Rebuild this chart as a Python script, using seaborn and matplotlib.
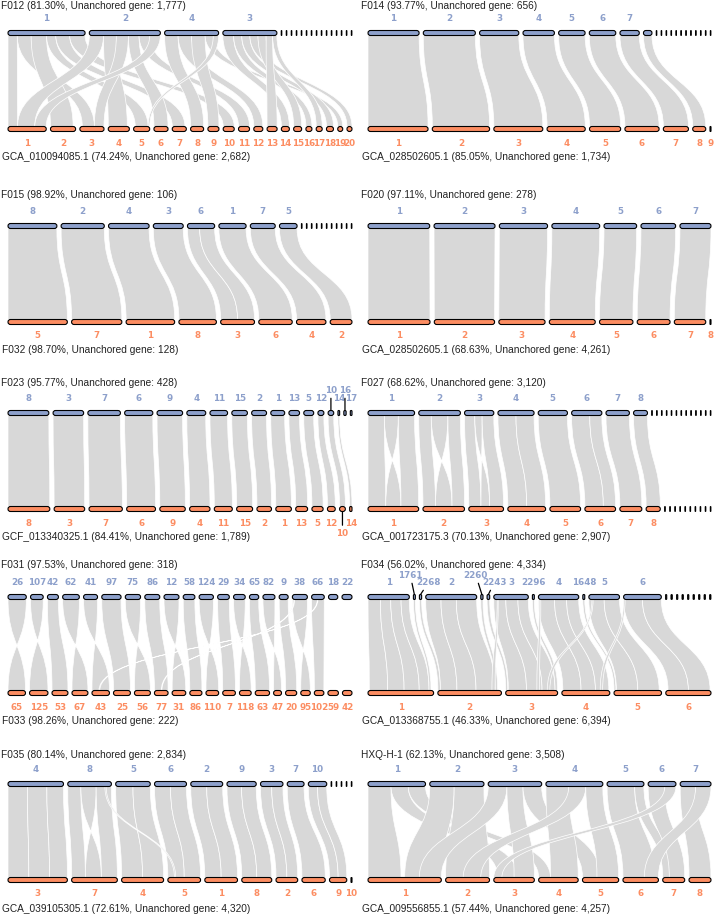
import numpy as np
import matplotlib
matplotlib.use("Agg")
import matplotlib.pyplot as plt
import seaborn as sns
from matplotlib.patches import FancyBboxPatch, PathPatch
from matplotlib.path import Path

sns.set_theme(style="white")
plt.rcParams['font.family'] = ['DejaVu Sans']

pal = sns.color_palette("Set2")
TOP_C, BOT_C = pal[2], pal[1]
LINK_C = '#d8d8d8'

# ---------------- data (chromosome sizes, relative units) ----------------
f012_top_title = "F012 (81.30%, Unanchored gene: 1,777)"
f012_bot_title = "GCA_010094085.1 (74.24%, Unanchored gene: 2,682)"
f012_top_names = ['1', '2', '4', '3']
f012_top_len = [77, 71, 54, 54]
f012_top_tiny = 15
f012_bot_names = ['1', '2', '3', '4', '5', '6', '7', '8', '9', '10',
                  '11', '12', '13', '14', '15', '16', '17', '18', '19', '20']
f012_bot_len = [38, 25, 24, 21, 16, 14, 14, 13, 11, 11, 11, 9, 10, 8, 8, 6, 6, 7, 5, 5]
f012_links = [
    ('1', 0.00, 0.12, '1', 0.00, 0.25), ('1', 0.12, 0.30, '3', 0.10, 0.60),
    ('1', 0.30, 0.50, '2', 0.00, 0.90), ('1', 0.50, 0.62, '5', 0.10, 0.90),
    ('1', 0.62, 0.80, '7', 0.00, 0.90), ('1', 0.80, 1.00, '10', 0.00, 1.00),
    ('2', 0.00, 0.20, '1', 0.25, 0.70), ('2', 0.20, 0.38, '4', 0.00, 0.90),
    ('2', 0.38, 0.55, '3', 0.60, 1.00), ('2', 0.55, 0.70, '6', 0.00, 1.00),
    ('2', 0.70, 0.85, '11', 0.00, 1.00), ('2', 0.85, 1.00, '1', 0.70, 1.00),
    ('4', 0.00, 0.25, '8', 0.00, 1.00), ('4', 0.25, 0.50, '12', 0.00, 1.00),
    ('4', 0.50, 0.75, '9', 0.00, 1.00), ('4', 0.75, 0.90, '19', 0.00, 1.00),
    ('4', 0.90, 1.00, '5', 0.90, 1.00),
    ('3', 0.00, 0.20, '14', 0.00, 1.00), ('3', 0.20, 0.35, '16', 0.00, 1.00),
    ('3', 0.35, 0.50, '18', 0.00, 1.00), ('3', 0.50, 0.65, '20', 0.00, 1.00),
    ('3', 0.65, 0.80, '15', 0.00, 1.00), ('3', 0.80, 0.92, '13', 0.00, 1.00),
    ('3', 0.92, 1.00, '17', 0.00, 1.00),
]

f014_top_title = "F014 (93.77%, Unanchored gene: 656)"
f014_bot_title = "GCA_028502605.1 (85.05%, Unanchored gene: 1,734)"
f014_top_names = ['1', '2', '3', '4', '5', '6', '7', '8']
f014_top_len = [52, 53, 40, 32, 27, 27, 19.7, 8.7]
f014_top_tiny = 12
f014_top_hide = ['8']
f014_bot_names = ['1', '2', '3', '4', '5', '6', '7', '8', '9']
f014_bot_len = [59.7, 57, 48.7, 38, 31, 34, 25, 13, 1]
f014_links = [(c, 0, 1, c, 0, 1) for c in ['1', '2', '3', '4', '5', '6', '7', '8']]

f015_top_title = "F015 (98.92%, Unanchored gene: 106)"
f015_bot_title = "F032 (98.70%, Unanchored gene: 128)"
f015_top_names = ['8', '2', '4', '3', '6', '1', '7', '5']
f015_top_len = [49, 43.3, 40.7, 30, 27.3, 27.3, 25, 17.7]
f015_top_tiny = 11
f015_bot_names = ['5', '7', '1', '8', '3', '6', '4', '2']
f015_bot_len = [59, 50, 48.3, 37.3, 33.7, 33.3, 29.3, 21.7]
f015_links = [('8', 0, 1, '5', 0, 1), ('2', 0, 1, '7', 0, 1), ('4', 0, 1, '1', 0, 1),
              ('3', 0, 1, '8', 0, 1), ('6', 0, 0.45, '3', 0, 0.5), ('6', 0.45, 1, '3', 0.5, 1),
              ('1', 0, 1, '6', 0, 1), ('7', 0, 1, '4', 0, 1), ('5', 0, 1, '2', 0, 1)]

f020_top_title = "F020 (97.11%, Unanchored gene: 278)"
f020_bot_title = "GCA_028502605.1 (68.63%, Unanchored gene: 4,261)"
f020_top_names = ['1', '2', '3', '4', '5', '6', '7']
f020_top_len = [61, 60.3, 47.7, 47.3, 32.3, 34.3, 30.7]
f020_bot_names = ['1', '2', '3', '4', '5', '6', '7', '8']
f020_bot_len = [61.7, 60, 46, 45.7, 33.3, 32.7, 31.3, 1]
f020_links = [(c, 0, 1, c, 0, 1) for c in ['1', '2', '3', '4', '5', '6', '7']]

f023_top_title = "F023 (95.77%, Unanchored gene: 428)"
f023_bot_title = "GCF_013340325.1 (84.41%, Unanchored gene: 1,789)"
f023_top_names = ['8', '3', '7', '6', '9', '4', '11', '15', '2', '1', '13', '5', '12', '10', '14', '16', '17']
f023_top_len = [41, 30.7, 32.7, 28.3, 25.7, 19, 17.7, 15.7, 15, 14, 10.7, 10, 6, 5.7, 1.7, 2.3, 1.7]
f023_bot_names = ['8', '3', '7', '6', '9', '4', '11', '15', '2', '1', '13', '5', '12', '10', '14']
f023_bot_len = [41, 30, 32.7, 28.3, 25, 20, 17.7, 15.7, 14.3, 15.3, 11.7, 11, 7.7, 5.7, 2.3]
f023_links = [(c, 0, 1, c, 0, 1) for c in f023_bot_names]
f023_top_shift = {'10': (0, 8, True), '16': (0, 8, True)}
f023_bot_shift = {'10': (0, 10, True)}

f027_top_title = "F027 (68.62%, Unanchored gene: 3,120)"
f027_bot_title = "GCA_001723175.3 (70.13%, Unanchored gene: 2,907)"
f027_top_names = ['1', '2', '3', '4', '5', '6', '7', '8']
f027_top_len = [47.7, 42.7, 30, 37, 30, 31, 24, 14.3]
f027_top_tiny = 13
f027_bot_names = ['1', '2', '3', '4', '5', '6', '7', '8']
f027_bot_len = [50, 41, 34.3, 37.3, 30.3, 30.3, 21.7, 14]
f027_bot_tiny = 10
f027_links = [
    ('1', 0, 0.35, '1', 0, 0.35), ('1', 0.35, 0.65, '1', 0.65, 0.35), ('1', 0.65, 1, '1', 0.65, 1),
    ('2', 0, 0.3, '2', 0, 0.3), ('2', 0.3, 0.7, '2', 0.7, 0.3), ('2', 0.7, 1, '2', 0.7, 1),
    ('3', 0, 0.35, '3', 0, 0.35), ('3', 0.35, 0.6, '3', 0.6, 0.35), ('3', 0.6, 1, '3', 0.6, 1),
    ('4', 0, 0.5, '4', 0, 0.5), ('4', 0.5, 1, '4', 0.5, 1),
    ('5', 0, 1, '5', 0, 1), ('6', 0, 0.6, '6', 0, 0.6), ('6', 0.6, 1, '6', 0.6, 1),
    ('7', 0, 1, '7', 0, 1), ('8', 0, 1, '8', 0, 1),
]

f031_top_title = "F031 (97.53%, Unanchored gene: 318)"
f031_bot_title = "F033 (98.26%, Unanchored gene: 222)"
f031_top_names = ['26', '107', '42', '62', '41', '97', '75', '86', '12', '58',
                  '124', '29', '34', '65', '82', '9', '38', '66', '18', '22']
f031_top_len = [18.3, 12.7, 11, 16.7, 14, 19.3, 15.3, 15, 15, 11.7,
                14.3, 11.7, 11.7, 9.3, 12, 9, 15, 12.7, 9.3, 10]
f031_bot_names = ['65', '125', '53', '67', '43', '25', '56', '77', '31', '86',
                  '110', '7', '118', '63', '47', '20', '95', '102', '59', '42']
f031_bot_len = [18.3, 19.3, 16.7, 16.7, 18.3, 17.7, 16.7, 14.3, 14.3, 12.7,
                13.3, 13.3, 12.3, 15, 8.3, 11.7, 10, 10, 11, 10]
f031_links = [
    ('26', 0, 1, '65', 1, 0), ('107', 0, 1, '125', 1, 0), ('42', 0, 1, '53', 0, 1),
    ('62', 0, 1, '67', 1, 0), ('41', 0, 1, '43', 1, 0), ('97', 0, 1, '25', 0, 1),
    ('75', 0, 1, '56', 1, 0), ('86', 0, 1, '77', 0, 1), ('12', 0, 1, '31', 1, 0),
    ('58', 0, 1, '86', 0, 1), ('124', 0, 1, '110', 1, 0), ('29', 0, 1, '7', 0, 1),
    ('34', 0, 1, '118', 1, 0), ('65', 0, 1, '63', 0, 1), ('82', 0, 1, '47', 1, 0),
    ('9', 0, 1, '20', 0, 1), ('38', 0, 1, '95', 1, 0), ('66', 0, 1, '102', 0, 1),
    ('66', 0.45, 0.5, '43', 0.4, 0.45), ('38', 0.1, 0.15, '77', 0.5, 0.55),
]

f034_top_title = "F034 (56.02%, Unanchored gene: 4,334)"
f034_bot_title = "GCA_013368755.1 (46.33%, Unanchored gene: 6,394)"
f034_top_names = ['1', '1761', '2268', '2', '2260', '2243', '3', '2296', '4', '1648', '5', '6']
f034_top_len = [42.7, 2, 2.3, 52.7, 2.3, 2.7, 35.7, 2, 41.7, 2, 31.7, 39]
f034_top_tiny = 9
f034_bot_names = ['1', '2', '3', '4', '5', '6']
f034_bot_len = [65.3, 63.3, 51.7, 47.7, 47.3, 45]
f034_links = [
    ('1', 0, 0.3, '1', 0.02, 0.3), ('1', 0.3, 0.55, '1', 0.3, 0.55),
    ('1', 0.55, 0.8, '1', 0.55, 0.78), ('1', 0.8, 1, '1', 0.78, 0.93),
    ('1761', 0, 1, '1', 0.93, 0.96), ('2268', 0, 1, '2', 0.0, 0.04),
    ('2', 0, 0.3, '2', 0.04, 0.3), ('2', 0.3, 0.6, '2', 0.3, 0.6), ('2', 0.6, 1, '2', 0.6, 0.9),
    ('2260', 0, 1, '2', 0.9, 0.94), ('2243', 0, 1, '3', 0.0, 0.04),
    ('3', 0, 0.35, '3', 0.05, 0.4), ('3', 0.35, 0.7, '3', 0.4, 0.7), ('3', 0.7, 1, '3', 0.7, 0.95),
    ('2296', 0, 1, '3', 0.95, 1.0),
    ('4', 0, 0.4, '4', 0.02, 0.4), ('4', 0.4, 0.7, '4', 0.4, 0.7), ('4', 0.7, 1, '4', 0.7, 0.98),
    ('1648', 0, 1, '5', 0.0, 0.04),
    ('5', 0, 0.5, '5', 0.05, 0.5), ('5', 0.5, 1, '5', 0.5, 0.95),
    ('6', 0, 0.5, '6', 0.05, 0.5), ('6', 0.5, 1, '6', 0.5, 0.98),
    ('4', 0.02, 0.06, '3', 0.6, 0.65), ('5', 0.1, 0.14, '3', 0.8, 0.85),
    ('6', 0.0, 0.04, '4', 0.8, 0.85), ('3', 0.1, 0.13, '2', 0.85, 0.9),
]
f034_top_shift = {'1761': (-4, 7, True), '2268': (8, 0, True),
                  '2260': (-6, 7, True), '2243': (6, 0, True)}

f035_top_title = "F035 (80.14%, Unanchored gene: 2,834)"
f035_bot_title = "GCA_039105305.1 (72.61%, Unanchored gene: 4,320)"
f035_top_names = ['4', '8', '5', '6', '2', '9', '3', '7', '10']
f035_top_len = [55, 43.3, 34.3, 31.7, 31.7, 29, 22.3, 16.7, 18.3]
f035_top_tiny = 5
f035_bot_names = ['3', '7', '4', '5', '1', '8', '2', '6', '9', '10']
f035_bot_len = [59.3, 45.7, 42, 32.7, 32.7, 30, 21.7, 23.3, 17.3, 1]
f035_links = [
    ('4', 0, 0.35, '3', 0, 0.35), ('4', 0.35, 0.7, '3', 0.35, 0.7), ('4', 0.7, 1, '3', 0.7, 1),
    ('8', 0, 0.3, '7', 0, 0.3), ('8', 0.3, 0.65, '7', 0.65, 0.3), ('8', 0.65, 1, '7', 0.65, 1),
    ('5', 0, 0.5, '4', 0, 0.5), ('5', 0.5, 1, '4', 0.5, 1),
    ('6', 0, 0.5, '5', 0, 0.5), ('6', 0.5, 1, '5', 0.5, 1),
    ('2', 0, 0.5, '1', 0, 0.5), ('2', 0.5, 1, '1', 0.5, 1),
    ('9', 0, 0.5, '8', 0, 0.5), ('9', 0.5, 1, '8', 0.5, 1),
    ('3', 0, 0.5, '2', 0, 0.5), ('3', 0.5, 1, '2', 0.5, 1),
    ('7', 0, 1, '6', 0, 1), ('10', 0, 0.5, '9', 0, 0.5), ('10', 0.5, 1, '9', 0.5, 1),
    ('8', 0.85, 0.88, '5', 0.2, 0.24),
]

hxq_top_title = "HXQ-H-1 (62.13%, Unanchored gene: 3,508)"
hxq_bot_title = "GCA_009556855.1 (57.44%, Unanchored gene: 4,257)"
hxq_top_names = ['1', '2', '3', '4', '5', '6', '7']
hxq_top_len = [57.3, 54, 53.3, 56.7, 36.7, 27.7, 30.7]
hxq_bot_names = ['1', '2', '3', '4', '5', '6', '7', '8']
hxq_bot_len = [72.3, 43.3, 40, 39, 35.7, 35, 21.7, 21.7]
hxq_links = [
    ('1', 0.0, 0.4, '1', 0.0, 0.45), ('1', 0.4, 0.7, '3', 0.1, 0.6), ('1', 0.7, 1.0, '4', 0.0, 0.3),
    ('2', 0.0, 0.45, '1', 0.5, 1.0), ('2', 0.45, 1.0, '2', 0.0, 1.0),
    ('3', 0.0, 0.35, '1', 0.7, 1.0), ('3', 0.35, 0.65, '3', 0.5, 1.0), ('3', 0.65, 1.0, '5', 0.0, 0.5),
    ('4', 0.0, 0.4, '4', 0.3, 1.0), ('4', 0.4, 0.7, '2', 0.4, 0.8), ('4', 0.7, 1.0, '5', 0.4, 1.0),
    ('5', 0.0, 0.75, '6', 0.0, 0.9), ('5', 0.75, 1.0, '7', 0.0, 0.5),
    ('6', 0.0, 0.6, '7', 0.3, 1.0), ('6', 0.6, 1.0, '3', 0.0, 0.2),
    ('7', 0.0, 0.5, '8', 0.0, 1.0), ('7', 0.5, 1.0, '6', 0.6, 1.0),
]

panels = [
    dict(row=0, col=0, tt=f012_top_title, bt=f012_bot_title, tn=f012_top_names, tl=f012_top_len,
         tk=f012_top_tiny, bn=f012_bot_names, bl=f012_bot_len, links=f012_links),
    dict(row=0, col=1, tt=f014_top_title, bt=f014_bot_title, tn=f014_top_names, tl=f014_top_len,
         tk=f014_top_tiny, bn=f014_bot_names, bl=f014_bot_len, links=f014_links, hide=f014_top_hide),
    dict(row=1, col=0, tt=f015_top_title, bt=f015_bot_title, tn=f015_top_names, tl=f015_top_len,
         tk=f015_top_tiny, bn=f015_bot_names, bl=f015_bot_len, links=f015_links),
    dict(row=1, col=1, tt=f020_top_title, bt=f020_bot_title, tn=f020_top_names, tl=f020_top_len,
         bn=f020_bot_names, bl=f020_bot_len, links=f020_links),
    dict(row=2, col=0, tt=f023_top_title, bt=f023_bot_title, tn=f023_top_names, tl=f023_top_len,
         bn=f023_bot_names, bl=f023_bot_len, links=f023_links, tshift=f023_top_shift, bshift=f023_bot_shift),
    dict(row=2, col=1, tt=f027_top_title, bt=f027_bot_title, tn=f027_top_names, tl=f027_top_len,
         tk=f027_top_tiny, bn=f027_bot_names, bl=f027_bot_len, bk=f027_bot_tiny, links=f027_links),
    dict(row=3, col=0, tt=f031_top_title, bt=f031_bot_title, tn=f031_top_names, tl=f031_top_len,
         bn=f031_bot_names, bl=f031_bot_len, links=f031_links),
    dict(row=3, col=1, tt=f034_top_title, bt=f034_bot_title, tn=f034_top_names, tl=f034_top_len,
         tk=f034_top_tiny, tkl=1.5, bn=f034_bot_names, bl=f034_bot_len, links=f034_links, tshift=f034_top_shift),
    dict(row=4, col=0, tt=f035_top_title, bt=f035_bot_title, tn=f035_top_names, tl=f035_top_len,
         tk=f035_top_tiny, bn=f035_bot_names, bl=f035_bot_len, links=f035_links),
    dict(row=4, col=1, tt=hxq_top_title, bt=hxq_bot_title, tn=hxq_top_names, tl=hxq_top_len,
         bn=hxq_bot_names, bl=hxq_bot_len, links=hxq_links),
]

# ---------------- layout ----------------
W, H = 717, 917
GAP = 4.2
BAR_H = 5.0
ROW_TOP = [33, 226, 413, 597, 784]
TITLE_UP = [27, 31, 30.5, 31.5, 29]   # px between title centre and top bar
SPAN = 96
COL_X = [(8, 352), (368, 711)]
PT = 0.72  # points per pixel at dpi 100
TITLE_FONT = ['Liberation Sans', 'DejaVu Sans']


def layout(lengths, n_tiny=0, tiny_len=0.8):
    lens = list(lengths) + [tiny_len] * n_tiny
    starts = np.concatenate([[0], np.cumsum(np.array(lens) + GAP)[:-1]])
    total = starts[-1] + lens[-1]
    return starts / total, np.array(lens) / total


def draw_bar(ax, x, w, y, color, wpx, hpx, lw=0.8):
    bh = BAR_H / hpx
    r = min(BAR_H / 2, w * wpx / 2) / wpx
    p = FancyBboxPatch((x, y - bh / 2), w, bh,
                       boxstyle=f"round,pad=0,rounding_size={r}",
                       mutation_aspect=wpx / hpx, fc=color, ec='black', lw=lw,
                       clip_on=False, zorder=3)
    ax.add_patch(p)


def ribbon(ax, t0, t1, b0, b1, yt, yb):
    ym = (yt + yb) / 2
    verts = [(t0, yt), (t0, ym), (b0, ym), (b0, yb), (b1, yb),
             (b1, ym), (t1, ym), (t1, yt), (t0, yt)]
    codes = [Path.MOVETO, Path.CURVE4, Path.CURVE4, Path.CURVE4, Path.LINETO,
             Path.CURVE4, Path.CURVE4, Path.CURVE4, Path.CLOSEPOLY]
    ax.add_patch(PathPatch(Path(verts, codes), fc=LINK_C, ec='white', lw=0.5,
                           clip_on=False, zorder=1))


def label(ax, name, xc, top, color, shift):
    dx, dy, leader = shift if shift else (0, 0, False)
    sgn = 1 if top else -1
    base = 14.5 if top else 14
    bh = BAR_H / 2 / SPAN
    y = 1 + bh if top else -bh
    kw = {}
    if leader:
        kw['arrowprops'] = dict(arrowstyle='-', lw=0.9, color='black', shrinkA=0, shrinkB=0.5)
    ax.annotate(name, (xc, y), xytext=(dx * PT, sgn * (base + dy - BAR_H / 2) * PT),
                textcoords='offset points', ha='center', va='center', fontsize=6.3,
                fontweight='bold', color=color, annotation_clip=False, **kw)


fig = plt.figure(figsize=(W / 100, H / 100), dpi=100)

for p in panels:
    x0, x1 = COL_X[p['col']]
    wpx = x1 - x0
    ytop = ROW_TOP[p['row']]
    ax = fig.add_axes([x0 / W, 1 - (ytop + SPAN) / H, wpx / W, SPAN / H])
    ax.set_xlim(0, 1)
    ax.set_ylim(0, 1)
    ax.axis('off')

    ts, tw = layout(p['tl'], p.get('tk', 0), p.get('tkl', 0.8))
    bs, bw = layout(p['bl'], p.get('bk', 0), p.get('bkl', 0.8))
    tidx = {n: i for i, n in enumerate(p['tn'])}
    bidx = {n: i for i, n in enumerate(p['bn'])}

    bh = BAR_H / SPAN
    for tc, a0, a1, bc, c0, c1 in p['links']:
        i, j = tidx[tc], bidx[bc]
        ribbon(ax, ts[i] + a0 * tw[i], ts[i] + a1 * tw[i],
               bs[j] + c0 * bw[j], bs[j] + c1 * bw[j], 1 - bh / 2, bh / 2)

    for k in range(len(ts)):
        named = k < len(p['tn'])
        draw_bar(ax, ts[k], tw[k], 1, TOP_C if named else 'black', wpx, SPAN, 0.8 if named else 0.6)
        if named and p['tn'][k] not in p.get('hide', []):
            label(ax, p['tn'][k], ts[k] + tw[k] / 2, True, TOP_C, p.get('tshift', {}).get(p['tn'][k]))
    for k in range(len(bs)):
        named = k < len(p['bn'])
        draw_bar(ax, bs[k], bw[k], 0, BOT_C if named else 'black', wpx, SPAN, 0.8 if named else 0.6)
        if named:
            label(ax, p['bn'][k], bs[k] + bw[k] / 2, False, BOT_C, p.get('bshift', {}).get(p['bn'][k]))

    ax.annotate(p['tt'], (0, 1), xycoords='axes fraction', xytext=(-7 * PT, TITLE_UP[p['row']] * PT),
                textcoords='offset points', ha='left', va='center', fontsize=7.3,
                family=TITLE_FONT, color='#222222', annotation_clip=False)
    ax.annotate(p['bt'], (0, 0), xycoords='axes fraction', xytext=(-6 * PT, -28.5 * PT),
                textcoords='offset points', ha='left', va='center', fontsize=7.3,
                family=TITLE_FONT, color='#222222', annotation_clip=False)

fig.savefig('out.png', dpi=100, facecolor='white')
